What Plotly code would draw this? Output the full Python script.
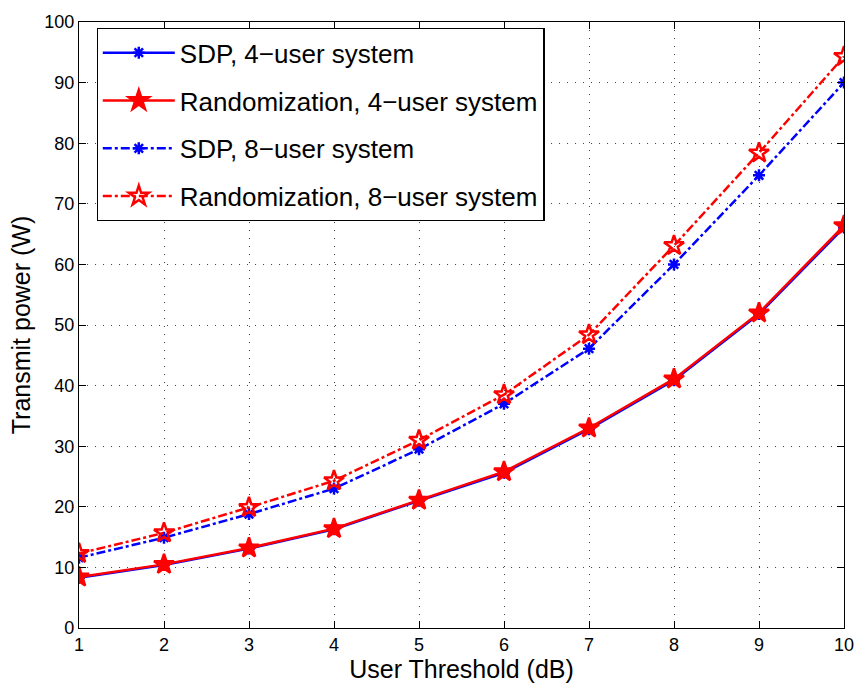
import plotly.graph_objects as go

x_vals = [1, 2, 3, 4, 5, 6, 7, 8, 9, 10]
sdp_4 = [8.3, 10.4, 13.1, 16.3, 21.0, 25.6, 32.8, 40.9, 51.8, 66.1]
rand_4 = [8.4, 10.5, 13.2, 16.4, 21.1, 25.8, 33.0, 41.1, 52.0, 66.4]
sdp_8 = [11.6, 14.9, 18.8, 23.0, 29.5, 37.0, 46.1, 60.0, 74.7, 90.0]
rand_8 = [12.3, 15.7, 19.9, 24.3, 31.0, 38.5, 48.4, 63.1, 78.4, 94.3]
names = ["SDP, 4\u2212user system", "Randomization, 4\u2212user system",
         "SDP, 8\u2212user system", "Randomization, 8\u2212user system"]

fig = go.Figure()
specs = [
    (sdp_4, names[0], "blue", "solid", "asterisk-open", 10),
    (rand_4, names[1], "red", "solid", "star", 15),
    (sdp_8, names[2], "blue", "dashdot", "asterisk-open", 10),
    (rand_8, names[3], "red", "dashdot", "star-open", 15),
]
for i, (ys, nm, col, dash, sym, sz) in enumerate(specs):
    fig.add_trace(go.Scatter(
        x=x_vals, y=ys, name=nm, mode="lines+markers", legendgroup=str(i),
        line=dict(color=col, width=2.5, dash=dash),
        marker=dict(symbol=sym, size=sz, color=col, line=dict(color=col, width=2.5)),
    ))

axis_common = dict(
    showline=True, linecolor="black", linewidth=1.2, mirror="ticks",
    ticks="inside", ticklen=7, tickcolor="black",
    showgrid=True, gridcolor="#444", griddash="1px,7px", gridwidth=1,
    zeroline=False, tickfont=dict(size=18, color="black"),
)
fig.update_xaxes(range=[1, 10], dtick=1, tick0=1,
                 title=dict(text="User Threshold (dB)", font=dict(size=25, color="black"), standoff=2),
                 **axis_common)
fig.update_yaxes(range=[0, 100], dtick=10,
                 title=dict(text="Transmit power (W)", font=dict(size=25, color="black"), standoff=6),
                 **axis_common)

fig.update_layout(
    width=866, height=691,
    margin=dict(l=79, r=16, t=16, b=63),
    paper_bgcolor="white", plot_bgcolor="white",
    font=dict(family="Liberation Sans, Arial, sans-serif", color="black"),
    legend=dict(x=0.023, y=0.99, xanchor="left", yanchor="top",
                bgcolor="white", bordercolor="black", borderwidth=1.2,
                font=dict(size=26, color="black"), itemwidth=72,
                traceorder="grouped", tracegroupgap=11),
)

fig.write_html("out.html")
